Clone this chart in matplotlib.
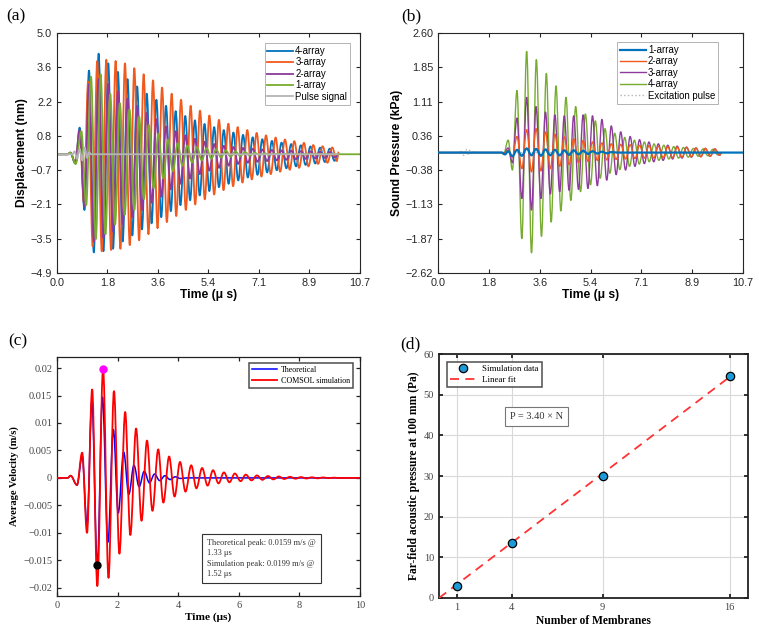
import matplotlib
matplotlib.use('Agg')
import matplotlib.pyplot as plt
from matplotlib.lines import Line2D
from matplotlib.path import Path
from matplotlib.patches import PathPatch
import numpy as np

SANS = 'Liberation Sans'
SERIF = 'Liberation Serif'

# (a) membrane displacement, extrema: (time us, nm)
a_4array = [(0.00, 0), (0.38, 0), (0.47, 0.07), (0.65, -0.38), (0.80, 1.10), (0.97, -2.30), (1.13, 3.45),
            (1.30, -4.05), (1.47, 4.15), (1.64, -4.00), (1.81, 3.75), (1.98, -3.90), (2.15, 3.40), (2.32, -3.60),
            (2.49, 3.10), (2.66, -3.35), (2.83, 2.80), (3.00, -3.10), (3.17, 2.50), (3.34, -2.85), (3.51, 2.25),
            (3.68, -2.60), (3.85, 2.00), (4.02, -2.35), (4.19, 1.78), (4.36, -2.10), (4.53, 1.58), (4.70, -1.90),
            (4.87, 1.40), (5.04, -1.70), (5.21, 1.25), (5.38, -1.52), (5.55, 1.12), (5.72, -1.36), (5.89, 1.00),
            (6.06, -1.22), (6.23, 0.90), (6.40, -1.08), (6.57, 0.80), (6.74, -0.96), (6.91, 0.70), (7.08, -0.85),
            (7.25, 0.62), (7.42, -0.75), (7.59, 0.55), (7.76, -0.66), (7.93, 0.48), (8.10, -0.58), (8.27, 0.42),
            (8.44, -0.50), (8.61, 0.37), (8.78, -0.44), (8.95, 0.32), (9.12, -0.38), (9.29, 0.27), (9.46, -0.32),
            (9.63, 0.23), (9.80, -0.27), (9.93, -0.05)]
a_3array = [(0.00, 0), (0.38, 0), (0.47, 0.06), (0.65, -0.35), (0.80, 0.95), (0.95, -2.00), (1.10, 3.00),
            (1.26, -3.80), (1.42, 3.85), (1.58, -4.00), (1.74, 3.90), (1.91, -3.95), (2.07, 3.85), (2.24, -3.90),
            (2.40, 3.75), (2.57, -3.75), (2.73, 3.55), (2.90, -3.55), (3.06, 3.30), (3.23, -3.30), (3.39, 3.05),
            (3.55, -3.05), (3.71, 2.75), (3.88, -2.80), (4.05, 2.50), (4.21, -2.55), (4.38, 2.25), (4.55, -2.30),
            (4.72, 2.00), (4.88, -2.07), (5.05, 1.80), (5.22, -1.86), (5.38, 1.60), (5.55, -1.66), (5.72, 1.42),
            (5.88, -1.48), (6.05, 1.26), (6.22, -1.32), (6.38, 1.12), (6.55, -1.17), (6.72, 1.00), (6.88, -1.04),
            (7.05, 0.88), (7.22, -0.92), (7.38, 0.78), (7.55, -0.82), (7.72, 0.69), (7.88, -0.72), (8.05, 0.61),
            (8.22, -0.64), (8.38, 0.54), (8.55, -0.56), (8.72, 0.47), (8.88, -0.50), (9.05, 0.38), (9.22, -0.40),
            (9.38, 0.33), (9.55, -0.35), (9.72, 0.28), (9.88, -0.28), (9.95, 0.10)]
a_2array = [(0.00, 0), (0.38, 0), (0.47, 0.06), (0.65, -0.38), (0.80, 1.00), (0.97, -2.15), (1.13, 2.90),
            (1.30, -3.60), (1.47, 3.10), (1.64, -3.45), (1.81, 2.90), (1.98, -3.20), (2.15, 2.60), (2.32, -2.90),
            (2.49, 2.30), (2.66, -2.60), (2.83, 2.00), (3.00, -2.30), (3.17, 1.72), (3.34, -2.00), (3.51, 1.45),
            (3.68, -1.75), (3.85, 1.15), (4.02, -1.45), (4.19, 0.95), (4.36, -1.22), (4.53, 0.78), (4.70, -1.00),
            (4.87, 0.64), (5.04, -0.82), (5.21, 0.52), (5.38, -0.68), (5.55, 0.42), (5.72, -0.56), (5.89, 0.35),
            (6.06, -0.47), (6.23, 0.30), (6.40, -0.40), (6.57, 0.26), (6.74, -0.35), (6.91, 0.23), (7.08, -0.31),
            (7.25, 0.20), (7.42, -0.28), (7.59, 0.18), (7.76, -0.25), (7.93, 0.16), (8.10, -0.23), (8.27, 0.15),
            (8.44, -0.21), (8.61, 0.13), (8.78, -0.19), (8.95, 0.12), (9.12, -0.17), (9.29, 0.10), (9.46, -0.15),
            (9.63, 0.09), (9.80, -0.13), (9.93, 0.0)]
a_1array = [(0.00, 0), (0.38, 0), (0.47, 0.07), (0.66, -0.40), (0.86, 0.95), (1.03, -2.10), (1.20, 3.20),
            (1.37, -3.50), (1.54, 3.30), (1.71, -3.30), (1.88, 2.50), (2.05, -2.90), (2.22, 2.10), (2.39, -2.50),
            (2.56, 1.85), (2.73, -2.30), (2.90, 1.55), (3.07, -1.85), (3.24, 1.20), (3.41, -1.40), (3.58, 0.85),
            (3.75, -1.00), (3.92, 0.60), (4.09, -0.70), (4.26, 0.45), (4.43, -0.48), (4.60, 0.36), (4.77, -0.34),
            (4.94, 0.30), (5.11, -0.25), (5.28, 0.25), (5.45, -0.18), (5.62, 0.20), (5.79, -0.13), (5.96, 0.16),
            (6.13, -0.10), (6.30, 0.12), (6.47, -0.07), (6.64, 0.09), (6.81, -0.05), (6.98, 0.06), (7.15, -0.03),
            (7.32, 0.04), (7.49, -0.02), (7.66, 0.02), (7.90, 0.0), (10.70, 0.0)]
a_pulse = [(0.00, 0), (0.55, 0), (0.62, 0.12), (0.71, -0.18), (0.80, 0.22), (0.89, -0.25), (0.98, 0.28),
           (1.06, -0.15), (1.13, 0.08), (1.20, 0.0), (9.95, 0.0)]

# (b) sound pressure, extrema: (time us, kPa)
b_1array = [(0.00, 0), (2.25, 0), (2.35, -0.04), (2.46, 0.03), (2.61, -0.08), (2.77, 0.06), (2.94, -0.07),
            (3.11, 0.09), (3.28, -0.06), (3.44, 0.08), (3.61, -0.07), (3.77, 0.07), (3.94, -0.06), (4.10, 0.06),
            (4.27, -0.06), (4.43, 0.05), (4.60, -0.05), (4.76, 0.05), (4.93, -0.04), (5.09, 0.04), (5.26, -0.03),
            (5.42, 0.03), (5.59, -0.02), (5.75, 0.02), (5.92, -0.015), (6.08, 0.01), (6.30, 0.0), (10.70, 0.0)]
b_2array = [(0.00, 0), (2.25, 0), (2.30, -0.02), (2.46, 0.05), (2.61, -0.10), (2.77, 0.35), (2.94, -0.35),
            (3.11, 0.50), (3.28, -0.42), (3.44, 0.52), (3.61, -0.40), (3.77, 0.45), (3.94, -0.35), (4.10, 0.40),
            (4.27, -0.30), (4.43, 0.34), (4.60, -0.26), (4.76, 0.30), (4.93, -0.22), (5.09, 0.26), (5.26, -0.19),
            (5.42, 0.23), (5.59, -0.17), (5.75, 0.21), (5.92, -0.16), (6.08, 0.19), (6.25, -0.15), (6.41, 0.18),
            (6.58, -0.14), (6.74, 0.17), (6.91, -0.13), (7.07, 0.16), (7.24, -0.12), (7.40, 0.15), (7.57, -0.12),
            (7.73, 0.14), (7.90, -0.11), (8.06, 0.13), (8.23, -0.11), (8.39, 0.12), (8.56, -0.10), (8.72, 0.11),
            (8.89, -0.09), (9.05, 0.10), (9.22, -0.09), (9.38, 0.09), (9.55, -0.08), (9.71, 0.08), (9.88, -0.06),
            (9.95, 0.0)]
b_3array = [(0.00, 0), (2.25, 0), (2.30, -0.03), (2.46, 0.10), (2.61, -0.22), (2.77, 0.75), (2.94, -1.00),
            (3.11, 1.20), (3.28, -1.25), (3.44, 1.00), (3.61, -1.00), (3.77, 0.88), (3.94, -0.90), (4.10, 0.82),
            (4.27, -0.85), (4.43, 0.80), (4.60, -0.82), (4.76, 0.80), (4.93, -0.80), (5.09, 0.82), (5.26, -0.78),
            (5.42, 0.80), (5.59, -0.72), (5.75, 0.72), (5.92, -0.60), (6.08, 0.58), (6.25, -0.48), (6.41, 0.45),
            (6.58, -0.38), (6.74, 0.35), (6.91, -0.30), (7.07, 0.28), (7.24, -0.24), (7.40, 0.23), (7.57, -0.20),
            (7.73, 0.19), (7.90, -0.17), (8.06, 0.16), (8.23, -0.14), (8.39, 0.14), (8.56, -0.12), (8.72, 0.12),
            (8.89, -0.10), (9.05, 0.10), (9.22, -0.09), (9.38, 0.09), (9.55, -0.08), (9.71, 0.08), (9.88, -0.06),
            (9.95, 0.0)]
b_4array = [(0.00, 0), (2.22, 0), (2.30, -0.04), (2.46, 0.27), (2.61, -0.38), (2.77, 1.35), (2.94, -1.87),
            (3.11, 2.20), (3.28, -2.18), (3.45, 2.02), (3.63, -1.82), (3.80, 1.72), (3.97, -1.51), (4.14, 1.45),
            (4.31, -1.27), (4.49, 1.20), (4.66, -1.04), (4.83, 1.00), (5.00, -0.85), (5.17, 0.84), (5.35, -0.70),
            (5.52, 0.69), (5.69, -0.56), (5.86, 0.52), (6.03, -0.45), (6.20, 0.42), (6.38, -0.37), (6.55, 0.33),
            (6.72, -0.30), (6.89, 0.27), (7.06, -0.25), (7.24, 0.23), (7.41, -0.20), (7.58, 0.19), (7.75, -0.17),
            (7.92, 0.16), (8.10, -0.14), (8.27, 0.13), (8.44, -0.12), (8.61, 0.11), (8.78, -0.10), (8.96, 0.09),
            (9.13, -0.08), (9.30, 0.08), (9.47, -0.07), (9.64, 0.07), (9.82, -0.05), (9.95, 0.0)]
b_pulse = [(0.00, 0), (0.75, 0), (0.82, 0.05), (0.90, -0.06), (0.98, 0.07), (1.05, -0.06), (1.12, 0.05),
           (1.20, -0.03), (1.28, 0.02), (1.35, 0.0), (9.95, 0.0)]

# (c) average velocity: (time us, m/s)
c_theory = [(0.00, 0), (0.35, 0), (0.45, 0.0004), (0.66, -0.0013), (0.83, 0.0040), (0.99, -0.0085),
            (1.15, 0.0138), (1.33, -0.0159), (1.50, 0.0147), (1.68, -0.0117), (1.86, 0.0088), (2.02, -0.0064),
            (2.20, 0.0047), (2.37, -0.0030), (2.54, 0.0023), (2.71, -0.0016), (2.88, 0.0012), (3.05, -0.0009),
            (3.22, 0.0007), (3.39, -0.0005), (3.56, 0.0004), (3.73, -0.0003), (3.90, 0.0002), (4.07, -0.0001),
            (4.30, 0.0), (10.00, 0.0)]
c_comsol = [(0.00, 0), (0.35, 0), (0.45, 0.0004), (0.66, -0.0013), (0.83, 0.0046), (0.99, -0.0100),
            (1.16, 0.0161), (1.33, -0.0197), (1.52, 0.0199), (1.70, -0.0182), (1.88, 0.0158), (2.06, -0.0138),
            (2.25, 0.0120), (2.42, -0.0104), (2.61, 0.0090), (2.79, -0.0078), (2.97, 0.0068), (3.15, -0.0060),
            (3.34, 0.0052), (3.51, -0.0045), (3.70, 0.0039), (3.88, -0.0034), (4.06, 0.0029), (4.24, -0.0025),
            (4.43, 0.0023), (4.60, -0.0019), (4.79, 0.0018), (4.97, -0.0014), (5.15, 0.0014), (5.33, -0.0010),
            (5.51, 0.0010), (5.69, -0.0008), (5.87, 0.0008), (6.06, -0.0006), (6.23, 0.0006), (6.42, -0.00045),
            (6.60, 0.00045), (6.78, -0.00035), (6.96, 0.00034), (7.14, -0.00027), (7.32, 0.00026), (7.50, -0.0002),
            (7.69, 0.0002), (7.87, -0.00015), (8.05, 0.00015), (8.23, -0.00011), (8.41, 0.00011), (8.60, -0.00008),
            (8.78, 0.00008), (8.96, -0.00005), (9.14, 0.00005), (9.32, -0.00003), (9.60, 0.0), (10.00, 0.0)]
theory_peak = (1.33, -0.0159)
comsol_peak = (1.52, 0.0199)

# (d) far-field pressure vs number of membranes
n_membranes = [1, 4, 9, 16]
pressure_pa = [2.9, 13.6, 30.1, 54.6]
fit_n = [0, 16]
fit_p = [0, 54.4]

a_xticklabels = ['0.0', '1.8', '3.6', '5.4', '7.1', '8.9', '10.7']
a_yticklabels = ['\u22124.9', '\u22123.5', '\u22122.1', '\u22120.7', '0.8', '2.2', '3.6', '5.0']
b_yticklabels = ['\u22122.62', '\u22121.87', '\u22121.13', '\u22120.38', '0.36', '1.11', '1.85', '2.60']
c_yticks = [-0.02, -0.015, -0.01, -0.005, 0, 0.005, 0.01, 0.015, 0.02]
c_yticklabels = ['\u22120.02', '\u22120.015', '\u22120.01', '\u22120.005', '0', '0.005', '0.01', '0.015', '0.02']

BLUE, ORANGE, PURPLE, GREEN = '#0072BD', '#F05A1E', '#8E3A9C', '#77AC30'


def wave(ax, pairs, color, lw, label, ls='-', z=2):
    # draws the read extrema as a smooth curve (flat tangent at each extremum)
    t, v = zip(*pairs)
    verts = [(t[0], v[0])]
    codes = [Path.MOVETO]
    for i in range(len(t) - 1):
        dt = t[i + 1] - t[i]
        verts += [(t[i] + 0.36 * dt, v[i]), (t[i + 1] - 0.36 * dt, v[i + 1]), (t[i + 1], v[i + 1])]
        codes += [Path.CURVE4] * 3
    ax.add_patch(PathPatch(Path(verts, codes), fill=False, edgecolor=color, lw=lw, ls=ls,
                           joinstyle='round', zorder=z))
    return Line2D([], [], color=color, lw=lw, ls=ls, label=label)


def matlab_box(ax, lw=0.8, color='#262626'):
    for s in ax.spines.values():
        s.set_linewidth(lw)
        s.set_color(color)
    ax.tick_params(direction='in', top=True, right=True, length=3, width=lw, colors=color)


fig = plt.figure(figsize=(7.59, 6.32), dpi=100)
axa = fig.add_axes([0.0751, 0.568, 0.3992, 0.3797])
axb = fig.add_axes([0.5771, 0.568, 0.4018, 0.3797])
axc = fig.add_axes([0.0751, 0.057, 0.3992, 0.378])
axd = fig.add_axes([0.5784, 0.0538, 0.4071, 0.386])

# ---- (a)
handles = []
for pairs, col, lab in [(a_4array, BLUE, '4-array'), (a_3array, ORANGE, '3-array'),
                        (a_2array, PURPLE, '2-array'), (a_1array, GREEN, '1-array'),
                        (a_pulse, '#b4b4b4', 'Pulse signal')]:
    handles.append(wave(axa, pairs, col, 1.3, lab))
axa.set_xlim(0, 10.7)
axa.set_ylim(-4.9, 5.0)
axa.set_xticks(np.linspace(0, 10.7, 7))
axa.set_xticklabels(a_xticklabels)
axa.set_yticks(np.linspace(-4.9, 5.0, 8))
axa.set_yticklabels(a_yticklabels)
axa.set_xlabel('Time (\u03bc s)', fontfamily=SANS, fontweight='bold', fontsize=8.7, labelpad=1)
axa.set_ylabel('Displacement (nm)', fontfamily=SANS, fontweight='bold', fontsize=8.7, labelpad=2)
matlab_box(axa)
leg = axa.legend(handles=handles, loc='upper right', bbox_to_anchor=(0.967, 0.958), borderaxespad=0,
                 fancybox=False, prop={'family': SANS, 'size': 6.9}, handlelength=2.7, handletextpad=0.2,
                 labelspacing=0.15, borderpad=0.3)
leg.get_frame().set_edgecolor('#a0a0a0')
leg.get_frame().set_linewidth(0.7)

# ---- (b)
handles = []
for pairs, col, lab, lw, z in [(b_1array, BLUE, '1-array', 1.6, 5), (b_2array, ORANGE, '2-array', 1.0, 4),
                               (b_3array, PURPLE, '3-array', 1.0, 3), (b_4array, GREEN, '4-array', 1.0, 2)]:
    handles.append(wave(axb, pairs, col, lw, lab, z=z))
handles.append(wave(axb, b_pulse, '#b4b4b4', 1.0, 'Excitation pulse', ls=':', z=1))
axb.set_xlim(0, 10.7)
axb.set_ylim(-2.62, 2.60)
axb.set_xticks(np.linspace(0, 10.7, 7))
axb.set_xticklabels(a_xticklabels)
axb.set_yticks(np.linspace(-2.62, 2.60, 8))
axb.set_yticklabels(b_yticklabels)
axb.set_xlabel('Time (\u03bc s)', fontfamily=SANS, fontweight='bold', fontsize=8.7, labelpad=1)
axb.set_ylabel('Sound Pressure (kPa)', fontfamily=SANS, fontweight='bold', fontsize=8.7, labelpad=2)
matlab_box(axb)
leg = axb.legend(handles=handles, loc='upper right', bbox_to_anchor=(0.918, 0.9625), borderaxespad=0,
                 fancybox=False, prop={'family': SANS, 'size': 6.9}, handlelength=2.7, handletextpad=0.2,
                 labelspacing=0.15, borderpad=0.3)
leg.get_frame().set_edgecolor('#a0a0a0')
leg.get_frame().set_linewidth(0.7)

for ax in (axa, axb):
    for lbl in ax.get_xticklabels() + ax.get_yticklabels():
        lbl.set_fontfamily(SANS)
        lbl.set_fontsize(7.8)

# ---- (c)
handles = [wave(axc, c_theory, 'blue', 1.1, 'Theoretical', z=2),
           wave(axc, c_comsol, 'red', 1.3, 'COMSOL simulation', z=3)]
axc.plot(*comsol_peak, 'o', color='magenta', ms=5, zorder=5)
axc.plot(*theory_peak, 'o', color='black', ms=5, zorder=5)
axc.set_xlim(0, 10)
axc.set_ylim(-0.0215, 0.022)
axc.set_xticks([0, 2, 4, 6, 8, 10])
axc.set_yticks(c_yticks)
axc.set_yticklabels(c_yticklabels)
axc.set_xlabel('Time (\u03bcs)', fontfamily=SERIF, fontweight='bold', fontsize=8.2, labelpad=2)
axc.set_ylabel('Average Velocity (m/s)', fontfamily=SERIF, fontweight='bold', fontsize=7.6, labelpad=3)
matlab_box(axc, lw=0.9, color='#222222')
leg = axc.legend(handles=handles, loc='upper right', bbox_to_anchor=(0.977, 0.975), borderaxespad=0,
                 fancybox=False, prop={'family': SERIF, 'size': 5.8}, handlelength=3.1, handletextpad=0.4,
                 labelspacing=0.3, borderpad=0.4)
leg.get_frame().set_edgecolor('#222222')
leg.get_frame().set_linewidth(1.1)
axc.text(0.495, 0.075, 'Theoretical peak: 0.0159 m/s @\n1.33 \u03bcs\nSimulation peak: 0.0199 m/s @\n1.52 \u03bcs',
         transform=axc.transAxes, fontfamily=SERIF, fontsize=6.0, va='bottom', ha='left', linespacing=1.4,
         color='#333333',
         bbox=dict(boxstyle='square,pad=0.6', fc='white', ec='#333333', lw=0.8))

# ---- (d)
axd.grid(True, color='#d9d9d9', lw=0.8)
axd.set_axisbelow(True)
axd.plot(n_membranes, pressure_pa, 'o', ms=6, mfc='#1a9bd7', mec='black', mew=0.9,
         label='Simulation data', zorder=4)
axd.plot(fit_n, fit_p, '--', color='#ff3333', lw=1.3, dashes=(5, 3.5), label='Linear fit', zorder=3)
axd.set_xlim(0, 17)
axd.set_ylim(0, 60)
axd.set_xticks(n_membranes)
axd.set_yticks([0, 10, 20, 30, 40, 50, 60])
axd.set_xlabel('Number of Membranes', fontfamily=SERIF, fontweight='bold', fontsize=8.3, labelpad=2)
axd.set_ylabel('Far-field acoustic pressure at 100 mm (Pa)', fontfamily=SERIF, fontweight='bold',
               fontsize=8.3, labelpad=3)
matlab_box(axd, lw=1.3, color='#222222')
leg = axd.legend(loc='upper left', bbox_to_anchor=(0.026, 0.967), borderaxespad=0, fancybox=False,
                 prop={'family': SERIF, 'size': 6.4}, handlelength=3.0, handletextpad=0.6,
                 labelspacing=0.25, borderpad=0.35)
leg.get_frame().set_edgecolor('#222222')
leg.get_frame().set_linewidth(1.1)
axd.text(5.36, 44.6, 'P = 3.40 \u00d7 N', fontfamily=SERIF, fontsize=7.5, ha='center', va='center',
         color='#333333', bbox=dict(boxstyle='square,pad=0.45', fc='white', ec='#777777', lw=0.8))

for ax in (axc, axd):
    for lbl in ax.get_xticklabels() + ax.get_yticklabels():
        lbl.set_fontfamily(SERIF)
        lbl.set_fontsize(7.5)
        lbl.set_color('#444444')

for x, y, s in [(6, 8, '(a)'), (401, 8, '(b)'), (8, 333, '(c)'), (400, 336, '(d)')]:
    fig.text(x / 759, 1 - y / 632, s, fontfamily=SERIF, fontsize=12.5, va='top', ha='left')

fig.savefig('out.png', dpi=100)
